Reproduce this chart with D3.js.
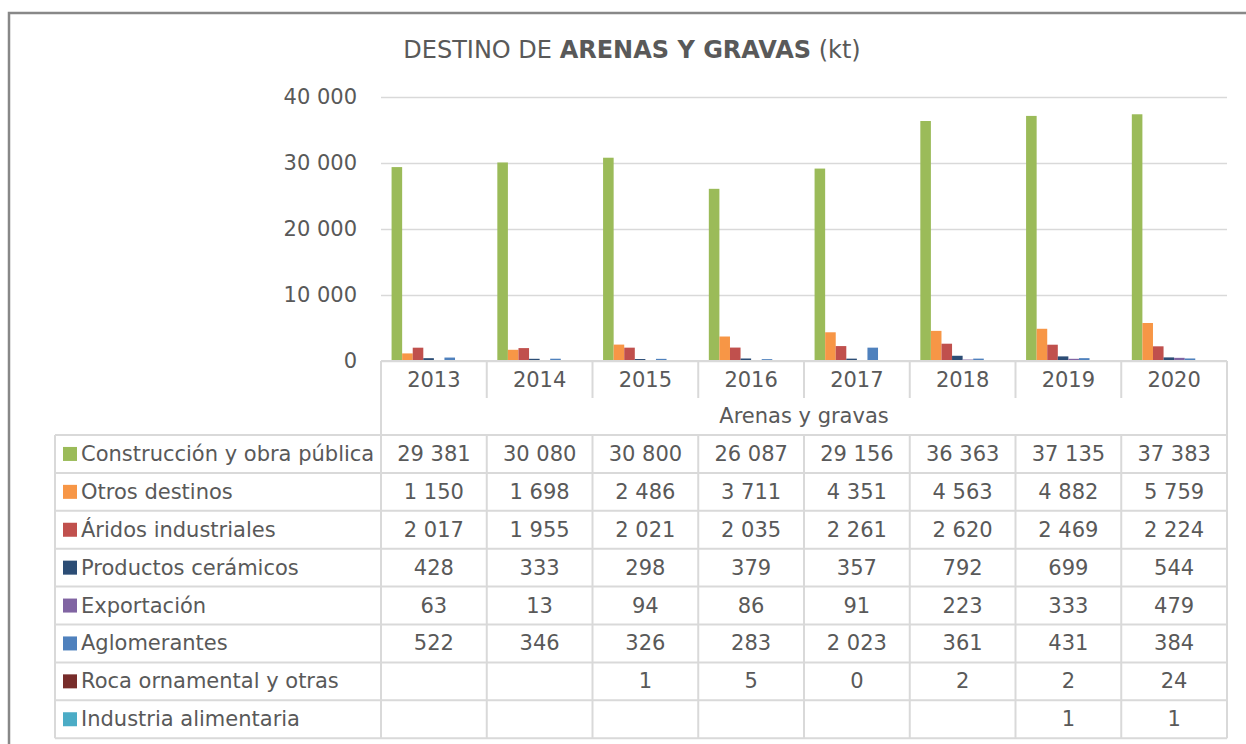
<!DOCTYPE html>
<html>
<head>
<meta charset="utf-8">
<script src="https://cdn.jsdelivr.net/npm/d3@7"></script>
<style>
  body { margin: 0; background: #fff; }
  svg text { font-family: "DejaVu Sans", sans-serif; fill: #595959; }
  .grid line { stroke: #d9d9d9; stroke-width: 1.5; }
  .grid .domain { display: none; }
  .tbl { stroke: #d9d9d9; stroke-width: 2; fill: none; }
</style>
</head>
<body>
<div id="chart"></div>
<script>
var years = ["2013", "2014", "2015", "2016", "2017", "2018", "2019", "2020"];
var seriesNames = ["Construcción y obra pública", "Otros destinos", "Áridos industriales",
    "Productos cerámicos", "Exportación", "Aglomerantes", "Roca ornamental y otras", "Industria alimentaria"];
var construccion = [29381, 30080, 30800, 26087, 29156, 36363, 37135, 37383];
var otros = [1150, 1698, 2486, 3711, 4351, 4563, 4882, 5759];
var aridos = [2017, 1955, 2021, 2035, 2261, 2620, 2469, 2224];
var ceramicos = [428, 333, 298, 379, 357, 792, 699, 544];
var exportacion = [63, 13, 94, 86, 91, 223, 333, 479];
var aglomerantes = [522, 346, 326, 283, 2023, 361, 431, 384];
var roca = [null, null, 1, 5, 0, 2, 2, 24];
var alimentaria = [null, null, null, null, null, null, 1, 1];
var yTicks = [0, 10000, 20000, 30000, 40000];
var colors = ["#9bbb59", "#f79646", "#c0504d", "#2c4d75", "#8064a2", "#4f81bd", "#772c2a", "#4bacc6"];

var seriesValues = [construccion, otros, aridos, ceramicos, exportacion, aglomerantes, roca, alimentaria];
var series = seriesNames.map(function(name, i) {
    return { name: name, color: colors[i], values: seriesValues[i] };
});

var width = 1246, height = 744;
var plotLeft = 381, plotRight = 1227, plotTop = 97, plotBottom = 361;
var tableLeft = 55, rowH = 37.9;
var yearRowBottom = 398, dataTop = 435;

var fmt = d3.formatLocale({ decimal: ",", thousands: " ", grouping: [3], currency: ["", ""] }).format(",d");

var svg = d3.select("#chart").append("svg")
    .attr("width", width)
    .attr("height", height);

// outer frame
svg.append("rect")
    .attr("x", 9).attr("y", 13)
    .attr("width", 1260).attr("height", 760)
    .attr("fill", "none")
    .attr("stroke", "#888")
    .attr("stroke-width", 2.5);

svg.append("text")
    .attr("x", 632).attr("y", 50)
    .attr("text-anchor", "middle")
    .attr("dominant-baseline", "central")
    .style("font-size", "24px")
    .html('DESTINO DE <tspan font-weight="bold">ARENAS Y GRAVAS</tspan> (kt)');

var x = d3.scaleBand().domain(years).range([plotLeft, plotRight]);
var xs = d3.scaleBand().domain(seriesNames).range([0, x.bandwidth()]).paddingOuter(1);
var y = d3.scaleLinear().domain([0, 40000]).range([plotBottom, plotTop]);

var yAxis = d3.axisLeft(y)
    .tickValues(yTicks)
    .tickFormat(fmt)
    .tickSizeInner(-(plotRight - plotLeft))
    .tickSizeOuter(0)
    .tickPadding(24);

svg.append("g")
    .attr("class", "grid")
    .attr("transform", "translate(" + plotLeft + ",0)")
    .call(yAxis)
    .selectAll("text")
    .style("font-size", "21px")
    .attr("fill", "#595959");

// bars
var groups = svg.selectAll(".year")
    .data(years)
    .enter().append("g")
    .attr("class", "year")
    .attr("transform", function(d) { return "translate(" + x(d) + ",0)"; });

groups.selectAll("rect")
    .data(function(d, i) {
        return series.filter(function(s) { return s.values[i] != null; })
            .map(function(s) { return { name: s.name, color: s.color, value: s.values[i] }; });
    })
    .enter().append("rect")
    .attr("x", function(d) { return xs(d.name); })
    .attr("width", xs.bandwidth())
    .attr("y", function(d) { return y(d.value); })
    .attr("height", function(d) { return plotBottom - y(d.value); })
    .attr("fill", function(d) { return d.color; });

// table lines
var tbl = svg.append("g").attr("class", "tbl");
var tableBottom = dataTop + rowH * series.length;

tbl.append("line").attr("x1", plotLeft).attr("x2", plotRight).attr("y1", plotBottom).attr("y2", plotBottom);
x.domain().forEach(function(d, i) {
    var xx = x(d);
    tbl.append("line").attr("x1", xx).attr("x2", xx)
        .attr("y1", plotBottom).attr("y2", i == 0 ? dataTop : yearRowBottom);
});
tbl.append("line").attr("x1", plotRight).attr("x2", plotRight).attr("y1", plotBottom).attr("y2", tableBottom);
tbl.append("line").attr("x1", tableLeft).attr("x2", tableLeft).attr("y1", dataTop).attr("y2", tableBottom);
d3.range(series.length + 1).forEach(function(i) {
    var yy = dataTop + i * rowH;
    tbl.append("line").attr("x1", tableLeft).attr("x2", plotRight).attr("y1", yy).attr("y2", yy);
});
x.domain().forEach(function(d) {
    tbl.append("line").attr("x1", x(d)).attr("x2", x(d)).attr("y1", dataTop).attr("y2", tableBottom);
});

// header
svg.selectAll(".yearLabel")
    .data(years)
    .enter().append("text")
    .attr("class", "yearLabel")
    .attr("x", function(d) { return x(d) + x.bandwidth() / 2; })
    .attr("y", 380)
    .attr("text-anchor", "middle")
    .attr("dominant-baseline", "central")
    .style("font-size", "21px")
    .text(function(d) { return d; });

svg.append("text")
    .attr("x", (plotLeft + plotRight) / 2)
    .attr("y", 416)
    .attr("text-anchor", "middle")
    .attr("dominant-baseline", "central")
    .style("font-size", "21px")
    .text("Arenas y gravas");

// rows
var rows = svg.selectAll(".row")
    .data(series)
    .enter().append("g")
    .attr("class", "row")
    .attr("transform", function(d, i) { return "translate(0," + (dataTop + i * rowH + rowH / 2) + ")"; });

rows.append("rect")
    .attr("x", 63).attr("y", -7)
    .attr("width", 14).attr("height", 14)
    .attr("fill", function(d) { return d.color; });

rows.append("text")
    .attr("x", 81)
    .attr("dominant-baseline", "central")
    .style("font-size", "21px")
    .text(function(d) { return d.name; });

rows.selectAll(".val")
    .data(function(d) { return d.values; })
    .enter().append("text")
    .attr("class", "val")
    .attr("x", function(d, i) { return x(years[i]) + x.bandwidth() / 2; })
    .attr("text-anchor", "middle")
    .attr("dominant-baseline", "central")
    .style("font-size", "21px")
    .text(function(d) { return d == null ? "" : fmt(d); });
</script>
</body>
</html>
